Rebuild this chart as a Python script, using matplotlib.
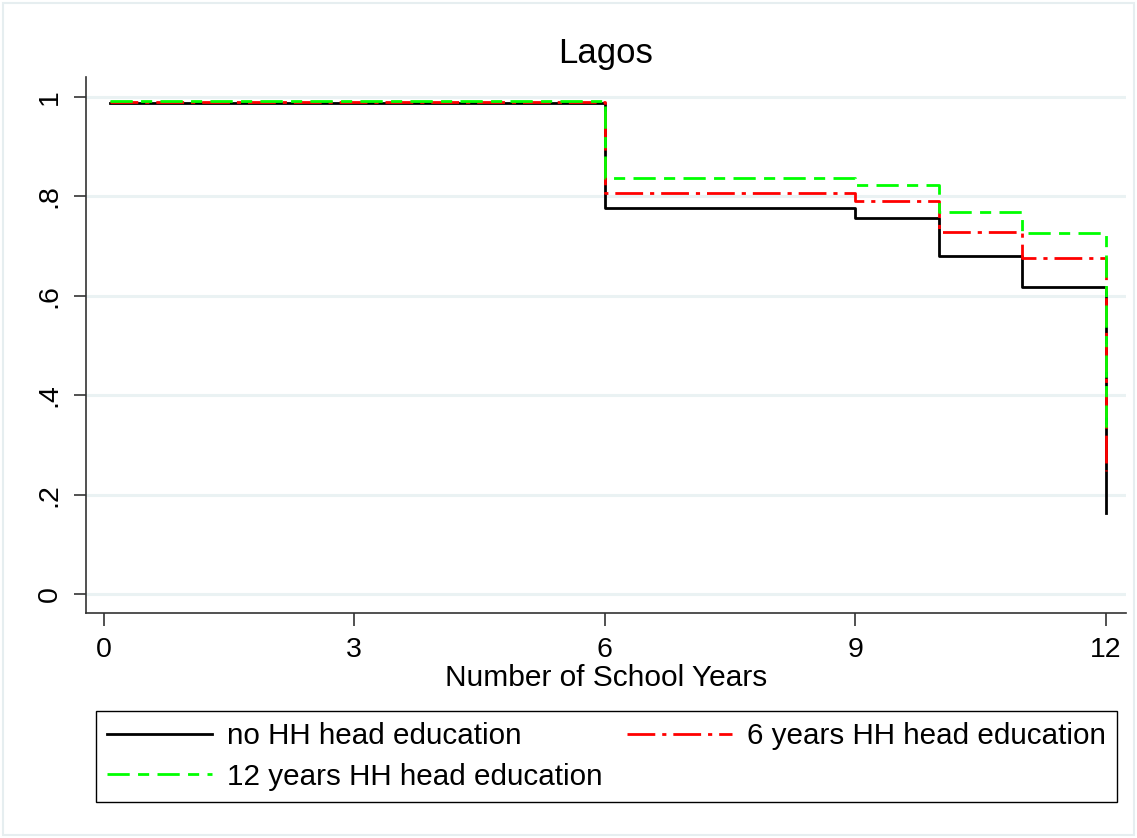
import matplotlib
matplotlib.use("Agg")
import matplotlib.pyplot as plt

plt.rcParams['font.family'] = ['Liberation Sans', 'DejaVu Sans']

# survival estimates (step function, post)
years = [0.08, 6, 9, 10, 11, 12]
noEdu = [0.987, 0.776, 0.756, 0.679, 0.618, 0.164]
sixEdu = [0.990, 0.807, 0.791, 0.728, 0.675, 0.248]
twelveEdu = [0.991, 0.836, 0.822, 0.769, 0.727, 0.329]

xTicks = [0, 3, 6, 9, 12]
yTicks = [0, 0.2, 0.4, 0.6, 0.8, 1]
yTickLabels = ['0', '.2', '.4', '.6', '.8', '1']

fig = plt.figure(figsize=(11.37, 8.38), dpi=100)
fig.patch.set_facecolor('white')
ax = fig.add_axes([86/1137, 1 - 613/838, (1126 - 86)/1137, (613 - 77)/838])

lw = 2.0
lBlack, = ax.plot(years, noEdu, drawstyle='steps-post', color='black', lw=lw,
                  label='no HH head education', zorder=3)
lRed, = ax.plot(years, sixEdu, drawstyle='steps-post', color='#FF0000', lw=lw,
                dashes=(10, 2.5, 1.5, 2.5), label='6 years HH head education', zorder=4)
lGreen, = ax.plot(years, twelveEdu, drawstyle='steps-post', color='#00FF00', lw=lw,
                  dashes=(8, 3, 4, 3), label='12 years HH head education', zorder=5)

ax.set_xlim(-0.212, 12.24)
ax.set_ylim(-0.038, 1.040)
ax.set_xticks(xTicks)
ax.set_xticklabels([str(t) for t in xTicks])
ax.set_yticks(yTicks)
ax.set_yticklabels(yTickLabels, rotation=90, va='center')

for side in ['top', 'right']:
    ax.spines[side].set_visible(False)
for side in ['left', 'bottom']:
    ax.spines[side].set_color('#333333')
    ax.spines[side].set_linewidth(1.2)

ax.tick_params(axis='both', labelsize=20.5, length=9, width=1.2, color='#333333', pad=8)
ax.grid(axis='y', color='#EAF2F3', lw=2.2, zorder=0)
ax.set_axisbelow(True)

ax.set_title('Lagos', fontsize=25, pad=10)
ax.set_xlabel('Number of School Years', fontsize=21.5, labelpad=1)

fig.legend([lBlack, lGreen, lRed],
           ['no HH head education', '12 years HH head education', '6 years HH head education'],
           ncol=2, loc='lower left',
           bbox_to_anchor=(96/1137, 1 - 802/838, (1117 - 96)/1137, (802 - 708)/838),
           mode='expand', borderaxespad=0, fontsize=21.3, handlelength=3.55,
           handletextpad=0.5, labelspacing=0.42, borderpad=0.38,
           fancybox=False, edgecolor='black', framealpha=1)

# thin light border round the whole graph
fig.add_artist(plt.Rectangle((0.003, 0.003), 0.994, 0.994, transform=fig.transFigure,
                             fill=False, edgecolor='#E6EEF0', lw=1.5))

fig.savefig('out.png', dpi=100)
